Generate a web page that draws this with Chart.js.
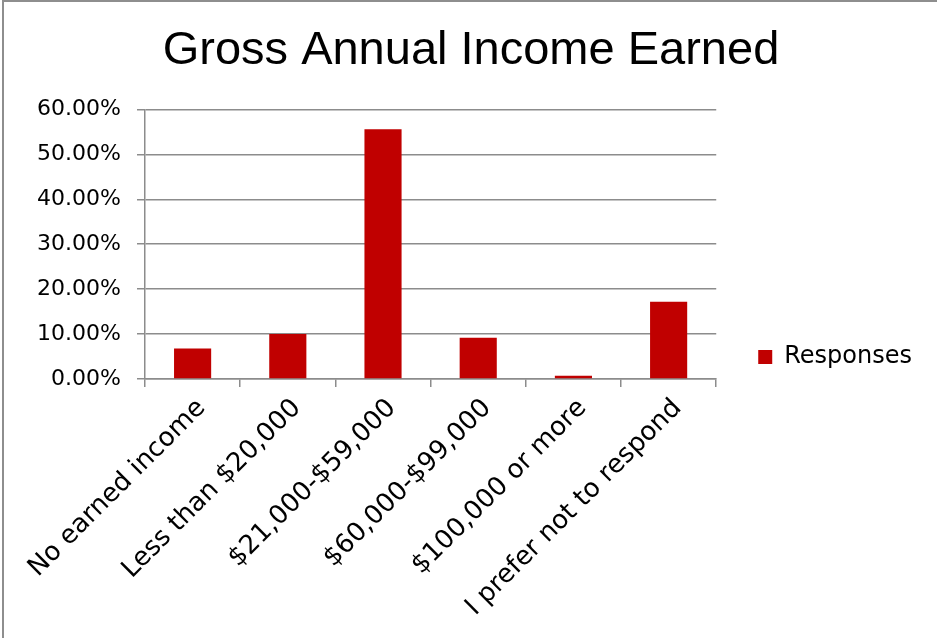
<!DOCTYPE html>
<html>
<head>
<meta charset="utf-8">
<title>Gross Annual Income Earned</title>
<script src="https://cdn.jsdelivr.net/npm/chart.js@4.4.1/dist/chart.umd.min.js"></script>
<style>
  html, body { margin: 0; padding: 0; background: #fff; }
  #wrap { position: relative; width: 937px; height: 638px; }
  #frame {
    position: absolute; left: 2px; top: 0; right: -10px; bottom: -10px;
    border-left: 2px solid #8e8e8e; border-top: 2px solid #8e8e8e;
    pointer-events: none;
  }
</style>
</head>
<body>
<div id="wrap">
  <canvas id="incomeChart" width="937" height="638"></canvas>
  <div id="frame"></div>
</div>
<script>
// income brackets and share of responses (%)
const categories = [
  "No earned income",
  "Less than $20,000",
  "$21,000-$59,000",
  "$60,000-$99,000",
  "$100,000 or more",
  "I prefer not to respond"
];
const responses = [6.8, 10.0, 55.6, 9.2, 0.7, 17.2];
const yTicks = [0, 10, 20, 30, 40, 50, 60];

const gridGrey = "#8c8c8c";
const labelFont = "'DejaVu Sans', sans-serif";

document.addEventListener("DOMContentLoaded", () => {
  const ctx = document.getElementById("incomeChart");

  new Chart(ctx, {
    type: "bar",
    data: {
      labels: categories,
      datasets: [{
        label: "Responses",
        data: responses,
        backgroundColor: "#C00000",
        borderWidth: 0,
        barPercentage: 0.39,
        categoryPercentage: 1.0
      }]
    },
    options: {
      responsive: false,
      animation: false,
      layout: { padding: { left: 20, right: 15, top: 0, bottom: 0 } },
      plugins: {
        title: {
          display: true,
          text: "Gross Annual Income Earned",
          color: "#000",
          font: { family: "'Liberation Sans', Arial, sans-serif", size: 47, weight: "normal", lineHeight: 1.2 },
          padding: { top: 23, bottom: 30 }
        },
        legend: {
          position: "right",
          align: "end",
          fullSize: false,
          maxWidth: 300,
          labels: {
            boxWidth: 14,
            boxHeight: 14,
            padding: 10,
            color: "#000",
            font: { family: labelFont, size: 24 }
          }
        },
        tooltip: { enabled: false }
      },
      scales: {
        x: {
          grid: {
            offset: true,
            drawOnChartArea: false,
            drawTicks: true,
            tickLength: 8,
            color: gridGrey,
            lineWidth: 1.5
          },
          border: { color: gridGrey, width: 1.5 },
          ticks: {
            color: "#000",
            font: { family: labelFont, size: 26 },
            minRotation: 45,
            maxRotation: 45,
            autoSkip: false,
            labelOffset: 9,
            padding: 6
          },
          afterFit: (scale) => { scale.height = 259; }
        },
        y: {
          min: 0,
          max: 60,
          afterBuildTicks: (scale) => {
            scale.ticks = yTicks.map(v => ({ value: v }));
          },
          grid: {
            color: gridGrey,
            lineWidth: 1.5,
            drawTicks: true,
            tickLength: 8
          },
          border: { color: gridGrey, width: 1.5 },
          ticks: {
            color: "#000",
            font: { family: labelFont, size: 22 },
            padding: 16,
            callback: (v) => Number(v).toFixed(2) + "%"
          },
          afterFit: (scale) => { scale.width = 125; }
        },
        // empty right-hand axis keeps a gap between the plot and the legend
        gap: {
          position: "right",
          display: true,
          grid: { display: false },
          border: { display: false },
          ticks: { display: false },
          afterFit: (scale) => { scale.width = 32; }
        }
      }
    }
  });
});
</script>
</body>
</html>
